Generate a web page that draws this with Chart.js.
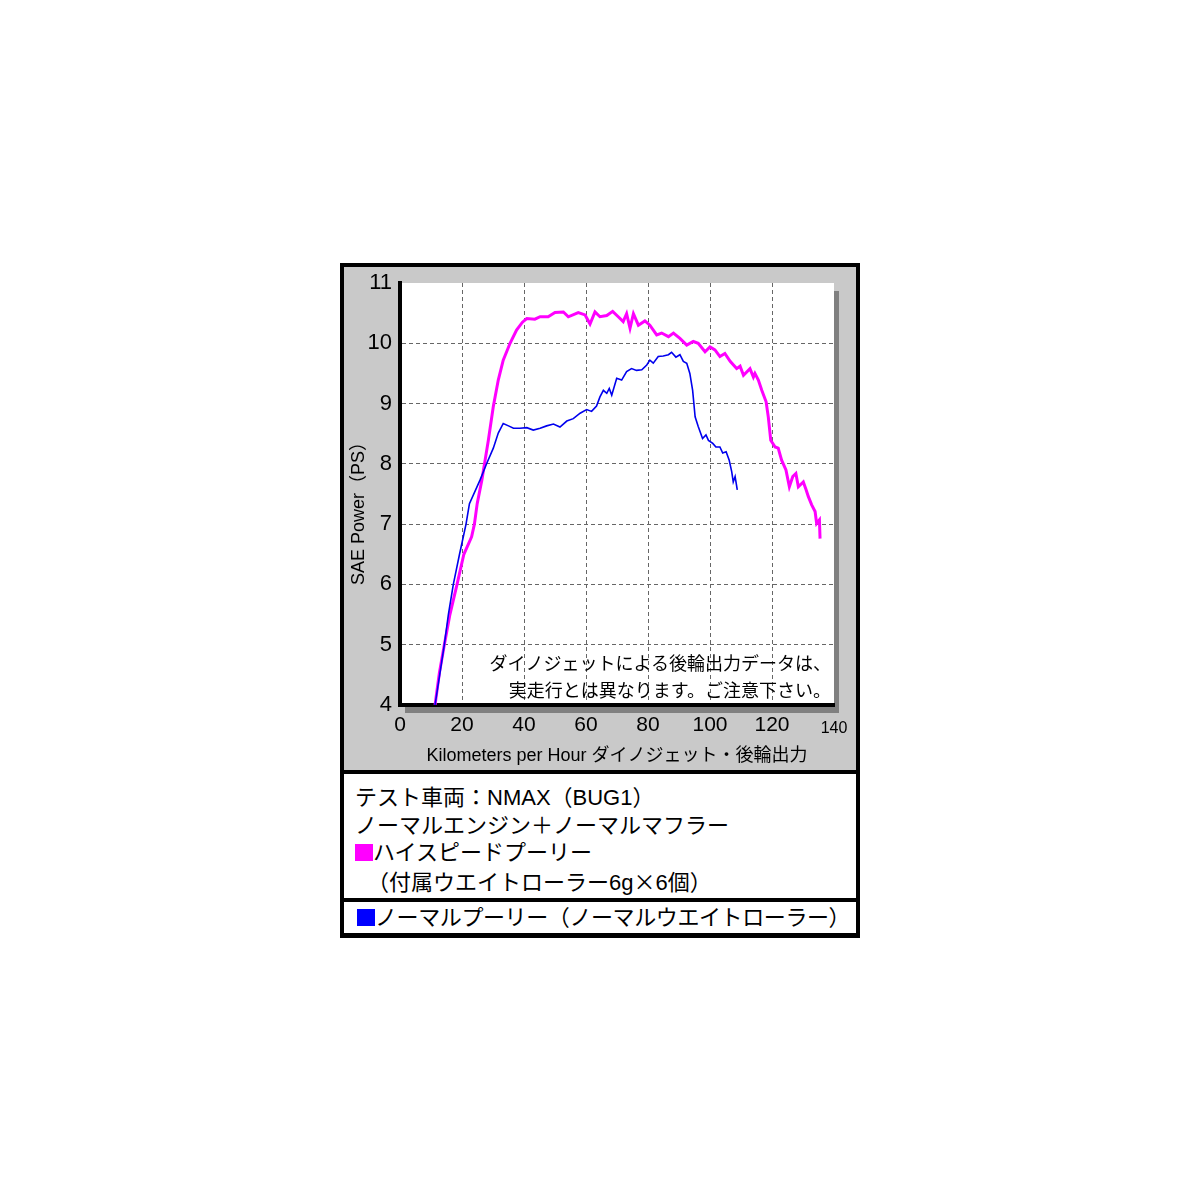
<!DOCTYPE html>
<html lang="ja">
<head>
<meta charset="utf-8">
<title>NMAX ダイノジェット</title>
<script src="https://cdn.jsdelivr.net/npm/chart.js@4.4.0/dist/chart.umd.min.js"></script>
<style>
  html, body { margin: 0; padding: 0; background: #fff; }
  body { width: 1200px; height: 1200px; position: relative; font-family: 'Liberation Sans', 'Noto Sans CJK JP', sans-serif; }
  #frame { position: absolute; left: 340px; top: 263px; width: 520px; height: 675px; background: #000; }
  #panel { position: absolute; left: 344px; top: 267px; width: 512px; height: 503px; background: #c9c9c9; }
  #panel canvas { position: absolute; left: 0; top: 0; }
  #note { position: absolute; right: 369px; top: 649px; font-family: 'Noto Sans CJK JP', sans-serif; font-size: 18px; line-height: 27px; text-align: right; color: #000; white-space: nowrap; }
  .box { position: absolute; left: 344px; width: 512px; background: #fff; color: #000; font-size: 22px; white-space: nowrap; }
  #spec { top: 774px; height: 124px; padding: 10px 0 0 11px; box-sizing: border-box; line-height: 27.7px; }
  #spec2 { top: 902px; height: 31px; padding: 0 0 0 13px; box-sizing: border-box; line-height: 31px; letter-spacing: -0.4px; }
  .sq { display: inline-block; width: 18px; height: 17px; vertical-align: -1px; }
  .indent { padding-left: 12px; }
  .cjk { font-family: 'Noto Sans CJK JP', sans-serif; }
</style>
</head>
<body>
<div id="frame"></div>
<div id="panel"><canvas id="dyno" width="512" height="503"></canvas></div>
<div id="note">ダイノジェットによる後輪出力データは、<br>実走行とは異なります。ご注意下さい。</div>
<div class="box" id="spec">
  <div>テスト車両：NMAX（BUG1）</div>
  <div>ノーマルエンジン＋ノーマルマフラー</div>
  <div><span class="sq" style="background:#ff00ff"></span>ハイスピードプーリー</div>
  <div class="indent">（付属ウエイトローラー6g<span class="cjk">×</span>6個）</div>
</div>
<div class="box" id="spec2"><span class="sq" style="background:#0000ff"></span>ノーマルプーリー（ノーマルウエイトローラー）</div>

<script>
// high speed pulley (magenta)
const hsKmh = [11.3, 12.7, 14.3, 16.1, 18.4, 20.6, 23.1, 24.0, 24.9, 26.4, 28.5, 30.1, 31.7, 33.3, 35.5, 37.6, 39.5, 40.9,
  43.5, 45.2, 47.8, 50.0, 52.7, 54.3, 57.5, 59.7, 61.3, 62.9, 64.5, 66.7, 68.6, 70.4, 72.0, 73.1, 74.2, 75.3, 76.9, 79.0,
  80.6, 82.8, 84.4, 86.6, 88.2, 90.3, 92.5, 94.6, 96.2, 98.4, 100.0, 101.6, 103.2, 104.8, 106.5, 108.6, 109.7, 110.8,
  112.9, 114.0, 114.5, 115.6, 116.7, 118.1, 118.8, 119.6, 121.0, 122.0, 123.1, 124.5, 125.6, 126.7, 127.7, 128.5, 130.1,
  131.0, 131.7, 132.8, 133.9, 134.4, 135.3, 135.5];
const hsPs = [4.0, 4.53, 5.0, 5.5, 6.0, 6.5, 6.79, 7.0, 7.34, 7.73, 8.39, 8.95, 9.39, 9.72, 10.0, 10.22, 10.35, 10.41,
  10.40, 10.44, 10.44, 10.51, 10.52, 10.44, 10.51, 10.47, 10.32, 10.52, 10.44, 10.46, 10.53, 10.44, 10.36, 10.49, 10.25,
  10.49, 10.30, 10.37, 10.30, 10.14, 10.17, 10.11, 10.17, 10.08, 9.97, 10.03, 10.0, 9.86, 9.94, 9.89, 9.78, 9.83, 9.70,
  9.58, 9.62, 9.47, 9.58, 9.44, 9.50, 9.39, 9.22, 9.03, 8.78, 8.39, 8.28, 8.26, 8.06, 7.90, 7.62, 7.79, 7.84, 7.62, 7.70,
  7.57, 7.46, 7.32, 7.21, 7.01, 7.07, 6.76];

// normal pulley (blue)
const nmKmh = [11.3, 12.8, 14.3, 15.6, 17.2, 19.2, 21.3, 22.4, 25.8, 28.0, 30.1, 31.7, 33.3, 35.0, 36.6, 38.7, 40.9, 43.0,
  45.2, 47.3, 49.5, 51.6, 53.8, 55.9, 58.1, 60.2, 61.8, 63.4, 64.5, 65.6, 66.7, 67.5, 68.3, 69.9, 71.5, 73.1, 74.7, 76.3,
  78.0, 79.6, 80.6, 81.7, 83.3, 84.9, 86.6, 87.6, 89.0, 90.3, 91.4, 92.5, 93.5, 94.4, 95.2, 96.2, 97.6, 98.7, 99.5, 100.9,
  101.9, 103.2, 104.1, 105.2, 106.2, 107.0, 107.5, 108.1, 108.8];
const nmPs = [4.0, 4.5, 5.0, 5.5, 6.0, 6.5, 7.0, 7.34, 7.73, 8.01, 8.26, 8.51, 8.67, 8.63, 8.59, 8.59, 8.60, 8.56,
  8.59, 8.63, 8.66, 8.61, 8.71, 8.75, 8.84, 8.90, 8.87, 8.96, 9.11, 9.22, 9.17, 9.25, 9.14, 9.42, 9.39, 9.53, 9.58, 9.55,
  9.56, 9.64, 9.72, 9.67, 9.78, 9.79, 9.81, 9.85, 9.77, 9.81, 9.70, 9.67, 9.50, 9.22, 8.78, 8.62, 8.42, 8.48, 8.39, 8.34,
  8.28, 8.28, 8.18, 8.20, 8.06, 7.87, 7.70, 7.79, 7.57];

const xTicks = [0, 20, 40, 60, 80, 100, 120, 140];
const yTicks = [4, 5, 6, 7, 8, 9, 10, 11];

const pts = (xs, ys) => xs.map((x, i) => ({x: x, y: ys[i]}));

// gray drop shadow + white plot background
const plotShadow = {
  id: 'plotShadow',
  beforeDraw(chart) {
    const {ctx, chartArea: a} = chart;
    ctx.save();
    ctx.fillStyle = '#808080';
    ctx.fillRect(a.left + 5, a.top + 8, a.right - a.left, a.bottom - a.top);
    ctx.fillStyle = '#ffffff';
    ctx.fillRect(a.left, a.top, a.right - a.left, a.bottom - a.top);
    ctx.restore();
  }
};

const gridOpts = {
  color: (c) => (c.tick && (c.tick.value === xTicks[xTicks.length - 1] || c.tick.value === yTicks[yTicks.length - 1])) ? 'rgba(0,0,0,0)' : '#666',
  lineWidth: 1,
  drawTicks: false
};
// in v4 border.dash is what dashes the grid lines, the axis line stays solid
const borderOpts = { display: true, color: '#000', width: 4, dash: [4, 3] };

const config = {
  type: 'line',
  data: {
    datasets: [
      {
        label: 'ノーマルプーリー',
        data: pts(nmKmh, nmPs),
        borderColor: '#0000ee',
        borderWidth: 1.6,
        order: 0
      },
      {
        label: 'ハイスピードプーリー',
        data: pts(hsKmh, hsPs),
        borderColor: '#ff00ff',
        borderWidth: 3,
        order: 1
      }
    ]
  },
  options: {
    responsive: false,
    animation: false,
    events: [],
    elements: { point: { radius: 0 }, line: { tension: 0 } },
    layout: { padding: { left: 0, top: 16, right: 22, bottom: 0 } },
    plugins: { legend: { display: false }, tooltip: { enabled: false } },
    scales: {
      x: {
        type: 'linear',
        min: 0,
        max: 140,
        afterBuildTicks: (s) => { s.ticks = xTicks.map(v => ({value: v})); },
        afterFit: (s) => { s.height = 65; },
        grid: gridOpts,
        border: borderOpts,
        ticks: {
          color: '#000',
          padding: 8,
          maxRotation: 0,
          autoSkip: false,
          font: (c) => (c.tick && c.tick.value === 140)
            ? { family: "'Liberation Sans', Arial, sans-serif", size: 16, lineHeight: 1.95 }
            : { family: "'Liberation Sans', Arial, sans-serif", size: 21 }
        },
        title: {
          display: true,
          text: 'Kilometers per Hour ダイノジェット・後輪出力',
          color: '#000',
          font: { family: "'Liberation Sans', 'Noto Sans CJK JP', sans-serif", size: 18 },
          padding: { top: 0, bottom: 3 }
        }
      },
      y: {
        min: 4,
        max: 11,
        afterBuildTicks: (s) => { s.ticks = yTicks.map(v => ({value: v})); },
        afterFit: (s) => { s.width = 56; s.paddingTop = 0; s.paddingBottom = 0; },
        grid: gridOpts,
        border: borderOpts,
        ticks: {
          color: '#000',
          padding: 8,
          font: { family: "'Liberation Sans', Arial, sans-serif", size: 22 }
        },
        title: {
          display: true,
          text: 'SAE Power（PS）      ',
          color: '#000',
          font: { family: "'Liberation Sans', 'Noto Sans CJK JP', sans-serif", size: 18 },
          padding: { top: 4, bottom: 0 }
        }
      }
    }
  },
  plugins: [plotShadow]
};

new Chart(document.getElementById('dyno'), config);
</script>
</body>
</html>
